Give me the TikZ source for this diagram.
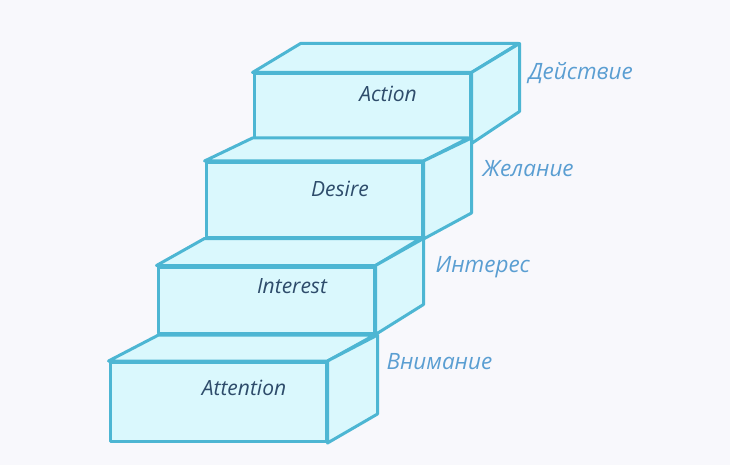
\documentclass[tikz,border=0pt]{standalone}
\usepackage{fontspec}
\setmainfont{Open Sans}
\usepackage{xcolor}
\definecolor{edge}{HTML}{4DB6D3}
\definecolor{face}{HTML}{DAF8FD}
\definecolor{side}{HTML}{5A9ED2}
\definecolor{txt}{HTML}{2E4C6B}
\definecolor{bg}{HTML}{F8F8FC}
\tikzset{
	front/.style={draw=edge, fill=face, line width=3pt, line join=round, minimum width=216pt, inner sep=0pt},
	faces/.style={draw=edge, fill=face, line width=3pt, line join=round},
	steptext/.style={text=txt, font=\itshape\fontsize{21}{24}\selectfont},
	sidelabel/.style={anchor=west, text=side, font=\itshape\fontsize{22.5}{26}\selectfont}
}
\begin{document}
\begin{tikzpicture}[x=1pt, y=-1pt]
	\fill[bg] (0,0) rectangle (730,465);
	\useasboundingbox (0,0) rectangle (730,465);

	% Action
	\node[front, minimum height=68pt] (act) at (362,108) {};
	\draw[faces] (act.north west) -- ++(48,-29) -- ++(218,0) -- (act.north east) -- cycle;
	\draw[faces] (act.north east) -- ++(48,-29) -- ++(0,68) -- (act.south east) -- cycle;
	\node[steptext] (actT) at ([shift={(26,-14)}]act.center) {Action};

	% Desire
	\node[front, minimum height=75pt] (des) at (314,200) {};
	\draw[faces] (des.north west) -- ++(48,-23) -- ++(216,0) -- (des.north east) -- cycle;
	\draw[faces] (des.north east) -- ++(48,-23) -- ++(0,75) -- (des.south east) -- cycle;
	\node[steptext] (desT) at ([shift={(26,-11)}]des.center) {Desire};

	% Interest
	\node[front, minimum height=66pt] (int) at (266,300) {};
	\draw[faces] (int.north west) -- ++(48,-27) -- ++(216,0) -- (int.north east) -- cycle;
	\draw[faces] (int.north east) -- ++(48,-27) -- ++(0,66) -- (int.south east) -- cycle;
	\node[steptext] (intT) at ([shift={(26,-14)}]int.center) {Interest};

	% Attention
	\node[front, minimum height=79pt] (att) at (218,402) {};
	\draw[faces] (att.north west) -- ++(50,-26) -- ++(216,0) -- (att.north east) -- cycle;
	\draw[faces] (att.north east) -- ++(50,-26) -- ++(0,79) -- (att.south east) -- cycle;
	\node[steptext] (attT) at ([shift={(26,-14)}]att.center) {Attention};

	% side labels
	\node[sidelabel] (l1) at (525,73) {Действие};
	\node[sidelabel] (l2) at (479,169) {Желание};
	\node[sidelabel] (l3) at (432,267) {Интерес};
	\node[sidelabel] (l4) at (383,362) {Внимание};
\end{tikzpicture}
\end{document}
